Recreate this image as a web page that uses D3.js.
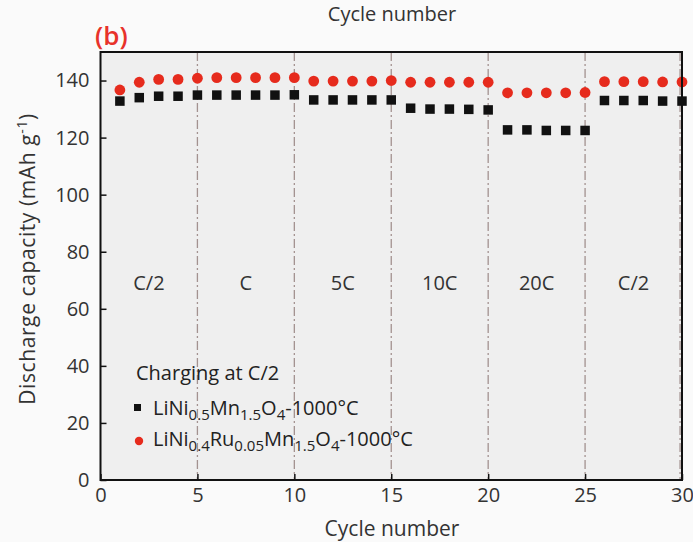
<!DOCTYPE html>
<html>
<head>
<meta charset="utf-8">
<script src="https://cdn.jsdelivr.net/npm/d3@7"></script>
<style>
  body { margin: 0; background: #fafafa; }
  svg { display: block; font-family: "Open Sans", sans-serif; }
</style>
</head>
<body>
<div id="chart"></div>
<script>
"use strict";
// cycle numbers 1..30
const cycles = [1, 2, 3, 4, 5, 6, 7, 8, 9, 10, 11, 12, 13, 14, 15,
  16, 17, 18, 19, 20, 21, 22, 23, 24, 25, 26, 27, 28, 29, 30];
// LiNi0.5Mn1.5O4-1000°C (black squares)
const undoped = [132.8, 134.0, 134.5, 134.5, 134.9, 134.9, 134.9, 134.9, 134.9, 135.0,
  133.2, 133.2, 133.2, 133.2, 133.2, 130.3, 130.0, 130.0, 129.9, 129.7,
  122.7, 122.7, 122.5, 122.5, 122.5, 133.0, 133.0, 133.0, 132.8, 132.8];
// LiNi0.4Ru0.05Mn1.5O4-1000°C (red circles)
const doped = [136.7, 139.4, 140.4, 140.4, 140.8, 141.0, 141.0, 141.0, 141.0, 141.0,
  139.8, 139.8, 139.8, 139.8, 140.0, 139.4, 139.4, 139.4, 139.4, 139.4,
  135.7, 135.7, 135.7, 135.7, 135.8, 139.6, 139.6, 139.6, 139.5, 139.5];
// discharge rate blocks
const rateLabels = ["C/2", "C", "5C", "10C", "20C", "C/2"];
const rateCenters = [2.5, 7.5, 12.5, 17.5, 22.5, 27.5];
const rateBounds = [5, 10, 15, 20, 25, 29.9];
const xTicks = [0, 5, 10, 15, 20, 25, 30];
const yTicks = [0, 20, 40, 60, 80, 100, 120, 140];

const W = 693, H = 542;
const svg = d3.select("#chart").append("svg")
  .attr("width", W).attr("height", H);

const x = d3.scaleLinear().domain([0, 30]).range([100.5, 682]);
const y = d3.scaleLinear().domain([0, 150]).range([480, 52]);

// plot background
svg.append("rect")
  .attr("x", x(0)).attr("y", y(150))
  .attr("width", x(30) - x(0)).attr("height", y(0) - y(150))
  .attr("fill", "#efefef");

// dash-dot separators between rate blocks
svg.selectAll("line.sep")
  .data(rateBounds)
  .enter().append("line")
  .attr("class", "sep")
  .attr("x1", d => x(d)).attr("x2", d => x(d))
  .attr("y1", y(150)).attr("y2", y(0))
  .attr("stroke", "#a39290")
  .attr("stroke-width", 1.3)
  .attr("stroke-dasharray", "9,3,2,3");

// rate labels
svg.selectAll("text.rate")
  .data(rateLabels)
  .enter().append("text")
  .attr("class", "rate")
  .attr("x", (d, i) => x(rateCenters[i]))
  .attr("y", 290)
  .attr("text-anchor", "middle")
  .attr("font-size", 20)
  .attr("fill", "#333")
  .text(d => d);

// black squares
const sq = 9.5;
svg.selectAll("rect.undoped")
  .data(undoped)
  .enter().append("rect")
  .attr("class", "undoped")
  .attr("x", (d, i) => x(cycles[i]) - sq / 2)
  .attr("y", d => y(d) - sq / 2)
  .attr("width", sq).attr("height", sq)
  .attr("fill", "#111");

// red circles
svg.selectAll("circle.doped")
  .data(doped)
  .enter().append("circle")
  .attr("class", "doped")
  .attr("cx", (d, i) => x(cycles[i]))
  .attr("cy", d => y(d))
  .attr("r", 5.4)
  .attr("fill", "#e62b1d");

// axes
const xAxis = d3.axisBottom(x).tickValues(xTicks).tickSize(-6).tickPadding(8);
const yAxis = d3.axisLeft(y).tickValues(yTicks).tickSize(-6).tickPadding(11);

const gx = svg.append("g").attr("transform", `translate(0,${y(0)})`).call(xAxis);
const gy = svg.append("g").attr("transform", `translate(${x(0)},0)`).call(yAxis);
[gx, gy].forEach(g => {
  g.select(".domain").remove();
  g.selectAll(".tick line").attr("stroke", "#111").attr("stroke-width", 1.5);
  g.selectAll(".tick text").attr("font-size", 20).attr("fill", "#333")
    .attr("font-family", "Open Sans, sans-serif");
});

// frame
svg.append("rect")
  .attr("x", x(0)).attr("y", y(150))
  .attr("width", x(30) - x(0)).attr("height", y(0) - y(150))
  .attr("fill", "none").attr("stroke", "#111").attr("stroke-width", 2);

// axis titles
svg.append("text")
  .attr("x", 392).attr("y", 536)
  .attr("text-anchor", "middle").attr("font-size", 21).attr("fill", "#333")
  .text("Cycle number");
svg.append("text")
  .attr("x", 392).attr("y", 21)
  .attr("text-anchor", "middle").attr("font-size", 20).attr("fill", "#333")
  .text("Cycle number");

const yt = svg.append("text")
  .attr("transform", "translate(35,259) rotate(-90)")
  .attr("text-anchor", "middle").attr("font-size", 21)
  .attr("letter-spacing", 0.6).attr("fill", "#333");
yt.append("tspan").text("Discharge capacity (mAh g");
yt.append("tspan").attr("dy", -8).attr("font-size", 14).text("-1");
yt.append("tspan").attr("dy", 8).text(")");

// panel label
svg.append("text")
  .attr("x", 95).attr("y", 45)
  .attr("font-size", 26).attr("font-weight", 600).attr("fill", "#e8322a")
  .text("(b)");

// legend
svg.append("text")
  .attr("x", 136).attr("y", 380)
  .attr("font-size", 20).attr("fill", "#222")
  .text("Charging at C/2");

function formula(g, parts) {
  // parts: [text, isSub]
  const t = g.append("text").attr("font-size", 20).attr("fill", "#222");
  let shifted = false;
  parts.forEach(([s, sub]) => {
    const ts = t.append("tspan").text(s);
    if (sub && !shifted) { ts.attr("dy", 5).attr("font-size", 15); shifted = true; }
    else if (sub) { ts.attr("font-size", 15); }
    else if (shifted) { ts.attr("dy", -5); shifted = false; }
  });
  return t;
}

const leg1 = svg.append("g").attr("transform", "translate(153,415)");
formula(leg1, [["LiNi", 0], ["0.5", 1], ["Mn", 0], ["1.5", 1], ["O", 0], ["4", 1], ["-1000°C", 0]]);
svg.append("rect").attr("x", 134).attr("y", 404).attr("width", 7).attr("height", 7).attr("fill", "#111");

const leg2 = svg.append("g").attr("transform", "translate(153,446)");
formula(leg2, [["LiNi", 0], ["0.4", 1], ["Ru", 0], ["0.05", 1], ["Mn", 0], ["1.5", 1], ["O", 0], ["4", 1], ["-1000°C", 0]]);
svg.append("circle").attr("cx", 139).attr("cy", 441).attr("r", 4.2).attr("fill", "#e62b1d");
</script>
</body>
</html>
